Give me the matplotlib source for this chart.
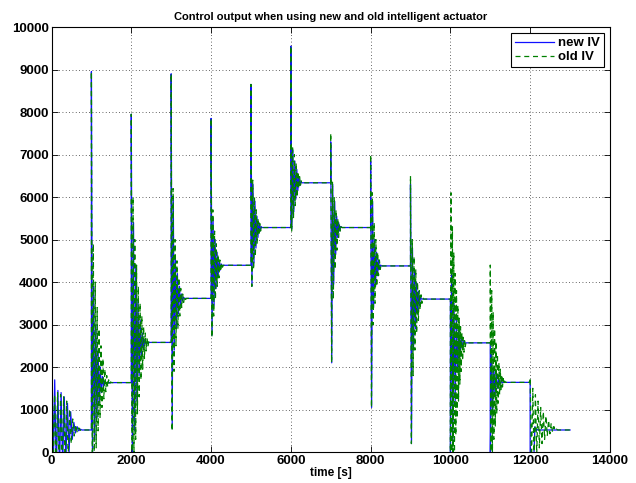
import matplotlib
matplotlib.use('Agg')
import matplotlib.pyplot as plt
import numpy as np

plt.rcParams['font.family'] = ['Liberation Sans', 'DejaVu Sans']
plt.rcParams['font.weight'] = 'bold'
plt.rcParams['font.size'] = 8

# set-point changes every 1000 s, run ends at 13000 s
seg_start = [0, 1000, 2000, 3000, 4000, 5000, 6000, 7000, 8000, 9000, 10000, 11000, 12000]
end_time = 13000

# spacing (s) between successive turning points in each segment
new_hp = [40, 28, 28, 26, 25, 25, 25, 25, 25, 25, 30, 30, 30]
old_hp = [38, 24, 22, 24, 22, 22, 22, 22, 22, 22, 17, 18, 33]

# turning points of the control output after each step (last value = settled level)
new_iv = [
    [3900, -600, 1700, -500, 1450, -400, 1400, -300, 1300, -200, 1150, 0, 950, 300, 700, 450, 600, 500, 540, 520],
    [8950, -300, 3900, 300, 3000, 800, 2400, 1150, 2000, 1400, 1780, 1550, 1680, 1610, 1635],
    [7950, -200, 5400, 500, 4400, 1200, 3600, 1800, 3100, 2200, 2800, 2420, 2650, 2550, 2580],
    [8900, 550, 6000, 2400, 4600, 2900, 4200, 3250, 3900, 3450, 3720, 3560, 3640, 3616],
    [7850, 2750, 5500, 3450, 5000, 3850, 4700, 4100, 4520, 4280, 4430, 4395],
    [8650, 3900, 6300, 4450, 5900, 4800, 5550, 5050, 5400, 5200, 5310, 5283],
    [9550, 5250, 7100, 5650, 6850, 5950, 6650, 6150, 6480, 6270, 6370, 6336],
    [7300, 2100, 6300, 3950, 5900, 4650, 5550, 5050, 5400, 5200, 5310, 5283],
    [6850, 1050, 5900, 3400, 5000, 3900, 4700, 4150, 4520, 4300, 4400, 4380],
    [6300, 200, 4800, 2400, 4300, 2900, 4000, 3250, 3780, 3450, 3650, 3600],
    [-500, 4200, 300, 3500, 1200, 3100, 1900, 2850, 2250, 2700, 2450, 2620, 2570],
    [-300, 2300, 900, 2000, 1300, 1850, 1500, 1720, 1580, 1670, 1630, 1640],
    [-300, -300, -300, -200, 600, 500, 530, 520],
]

old_iv = [
    [3800, -500, 1350, -600, 1400, -500, 1350, -400, 1300, -300, 1200, -100, 1000, 200, 780, 380, 640, 460, 570, 510, 530, 520],
    [8950, -400, 4900, -300, 4000, 100, 3400, 500, 2900, 800, 2500, 1050, 2200, 1250, 1950, 1420, 1800, 1530, 1700, 1600, 1650, 1635],
    [7950, -400, 6000, -300, 5000, 300, 4400, 900, 3900, 1300, 3500, 1700, 3200, 1950, 2950, 2200, 2800, 2380, 2680, 2480, 2610, 2580],
    [8900, 500, 6200, 1900, 5000, 2500, 4500, 2900, 4100, 3200, 3850, 3400, 3720, 3520, 3660, 3590, 3616],
    [7850, 2700, 5700, 3200, 5200, 3600, 4900, 3900, 4650, 4100, 4520, 4250, 4450, 4350, 4395],
    [8650, 3900, 6400, 4300, 6000, 4600, 5700, 4900, 5500, 5100, 5380, 5200, 5320, 5283],
    [9550, 5200, 7200, 5500, 7000, 5800, 6800, 6000, 6600, 6200, 6480, 6280, 6380, 6336],
    [7500, 2100, 6350, 3600, 6000, 4300, 5700, 4750, 5500, 5050, 5380, 5200, 5300, 5283],
    [7000, 1050, 6100, 3000, 5400, 3500, 5000, 3900, 4700, 4150, 4520, 4300, 4420, 4380],
    [6500, 200, 5000, 1800, 4600, 2400, 4300, 2800, 4000, 3100, 3800, 3350, 3700, 3500, 3630, 3600],
    [-400, 6100, -400, 5300, -300, 4700, 0, 4200, 400, 3800, 800, 3450, 1200, 3150, 1600, 2950, 1900, 2800,
     2150, 2700, 2350, 2620, 2480, 2590, 2570],
    [4400, -300, 3800, 0, 3300, 300, 2900, 600, 2600, 900, 2300, 1150, 2100, 1350, 1950, 1450, 1820, 1530,
     1730, 1590, 1670, 1640],
    [1750, -300, 1500, -200, 1350, -50, 1200, 100, 1050, 200, 950, 300, 850, 380, 750, 430, 680, 470, 600,
     500, 540, 520],
]


def build_trace(extremes, hp):
    t, y = [], []
    stops = seg_start[1:] + [end_time]
    for start, stop, vals, dt in zip(seg_start, stops, extremes, hp):
        for i, v in enumerate(vals):
            t.append(start + i * dt)
            y.append(v)
        # hold the settled value until the next step
        t.append(stop)
        y.append(vals[-1])
    return np.array(t), np.array(y)


t_new, y_new = build_trace(new_iv, new_hp)
t_old, y_old = build_trace(old_iv, old_hp)

fig = plt.figure(figsize=(6.36, 4.83), dpi=100)
ax = fig.add_axes([0.081, 0.064, 0.878, 0.880])

ax.plot(t_new, y_new, color='#1010ff', lw=0.9, label='new IV')
ax.plot(t_old, y_old, color='#008000', lw=0.9, ls='--', dashes=(4, 3), label='old IV')

ax.set_xlim(0, 14000)
ax.set_ylim(0, 10000)
ax.set_xticks(np.arange(0, 14001, 2000))
ax.set_yticks(np.arange(0, 10001, 1000))
ax.tick_params(direction='in', top=True, right=True, length=4, width=0.6, labelsize=9.5, pad=2)
ax.grid(True, ls=(0, (1, 3)), color='#333333', lw=0.6)
for s in ax.spines.values():
    s.set_linewidth(0.8)

ax.set_title('Control output when using new and old intelligent actuator', fontsize=8, fontweight='bold', pad=5)
ax.set_xlabel('time [s]', fontsize=8.5, fontweight='bold', labelpad=0)

leg = ax.legend(loc='upper right', fontsize=9.5, fancybox=False, framealpha=1, edgecolor='black',
                borderaxespad=0.45, handlelength=3.0, handletextpad=0.3, borderpad=0.3, labelspacing=0.15)
leg.get_frame().set_linewidth(0.8)

fig.savefig('out.png', dpi=100)
